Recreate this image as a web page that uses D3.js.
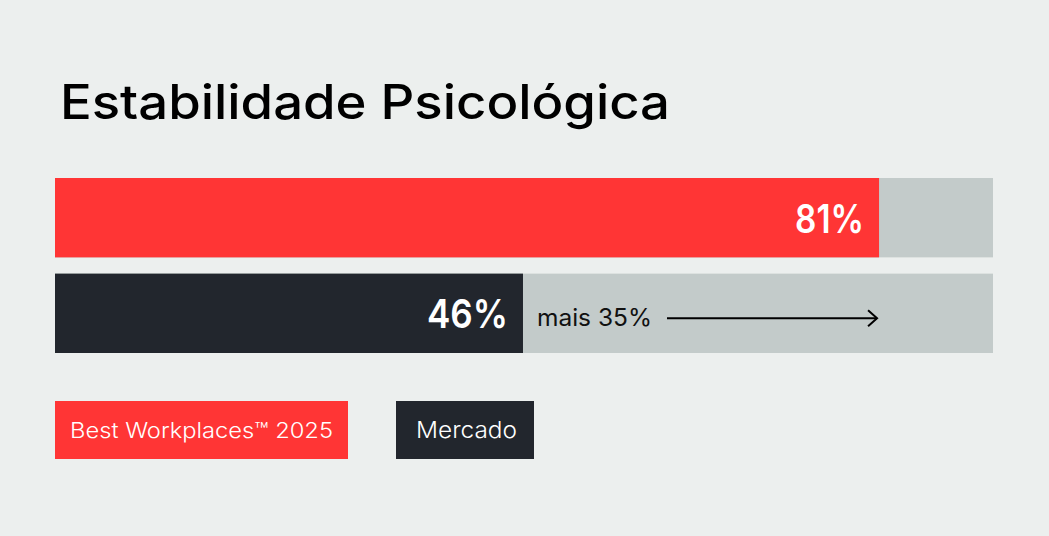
<!DOCTYPE html>
<html><head><meta charset="utf-8">
<script src="https://cdn.jsdelivr.net/npm/d3@7"></script>
<style>html,body{margin:0;padding:0;background:#ECEFEE;}svg{display:block;}</style>
</head><body>
<svg id="c" width="1049" height="536"></svg>
<script>
const title = "Estabilidade Psicológica";
const categories = ["Best Workplaces™ 2025", "Mercado"];
const values = [81, 46];
const labels = ["81%", "46%"];
const diffLabel = "mais 35%";
const colors = ["#FF3535", "#22262D"];

const W = 1049, H = 536;
const svg = d3.select("#c");
svg.append("rect").attr("width", W).attr("height", H).attr("fill", "#ECEFEE");
const font = "Inter, 'Noto Sans', sans-serif";

const x = d3.scaleLinear().domain([0, 92.2]).range([55, 993]);
const y = d3.scaleBand().domain(categories).range([178, 353]).paddingInner(0.17).paddingOuter(0);

// title
svg.append("text").attr("x", 60).attr("y", 119).attr("font-family", font)
  .attr("font-weight", 500).attr("font-size", 48).attr("fill", "#000")
  .attr("textLength", 610).attr("lengthAdjust", "spacingAndGlyphs").text(title);

// background tracks
svg.selectAll(".track").data(categories).join("rect").attr("class", "track")
  .attr("x", x(0)).attr("width", x.range()[1] - x(0))
  .attr("y", d => y(d)).attr("height", y.bandwidth()).attr("fill", "#C3CBCA");

svg.selectAll(".bar").data(categories).join("rect").attr("class", "bar")
  .attr("x", x(0)).attr("width", (d, i) => x(values[i]) - x(0))
  .attr("y", d => y(d)).attr("height", y.bandwidth()).attr("fill", (d, i) => colors[i]);

const valW = [69, 81];
svg.selectAll(".val").data(categories).join("text").attr("class", "val")
  .attr("x", (d, i) => x(values[i]) - 15 - valW[i]).attr("y", d => y(d) + y.bandwidth() / 2 + 15)
  .attr("font-family", font).attr("font-weight", 600).attr("font-size", 40)
  .attr("textLength", (d, i) => valW[i]).attr("lengthAdjust", "spacingAndGlyphs")
  .attr("fill", "#fff").text((d, i) => labels[i]);

// diff annotation
const yMid = y(categories[1]) + y.bandwidth() / 2;
svg.append("text").attr("x", x(values[1]) + 14).attr("y", yMid + 13)
  .attr("font-family", font).attr("font-weight", 400).attr("font-size", 24)
  .attr("textLength", 115).attr("lengthAdjust", "spacingAndGlyphs")
  .attr("fill", "#111").text(diffLabel);
const ax0 = 667, ax1 = x(values[0]) - 2;
svg.append("line").attr("x1", ax0).attr("x2", ax1).attr("y1", yMid + 5).attr("y2", yMid + 5)
  .attr("stroke", "#000").attr("stroke-width", 2);
svg.append("path").attr("d", `M${ax1 - 9},${yMid - 3} L${ax1},${yMid + 5} L${ax1 - 9},${yMid + 13}`)
  .attr("fill", "none").attr("stroke", "#000").attr("stroke-width", 2);

// legend
const legX = [55, 396], legW = [293, 138], legTX = [70, 416], legTW = [263, 101], legFS = [22, 23];
categories.forEach((c, i) => {
  svg.append("rect").attr("x", legX[i]).attr("y", 401).attr("width", legW[i]).attr("height", 58).attr("fill", colors[i]);
  svg.append("text").attr("x", legTX[i]).attr("y", 438)
    .attr("font-family", font).attr("font-weight", 300).attr("font-size", legFS[i])
    .attr("textLength", legTW[i]).attr("lengthAdjust", "spacingAndGlyphs")
    .attr("fill", "#fff").text(c);
});
</script>
</body></html>
